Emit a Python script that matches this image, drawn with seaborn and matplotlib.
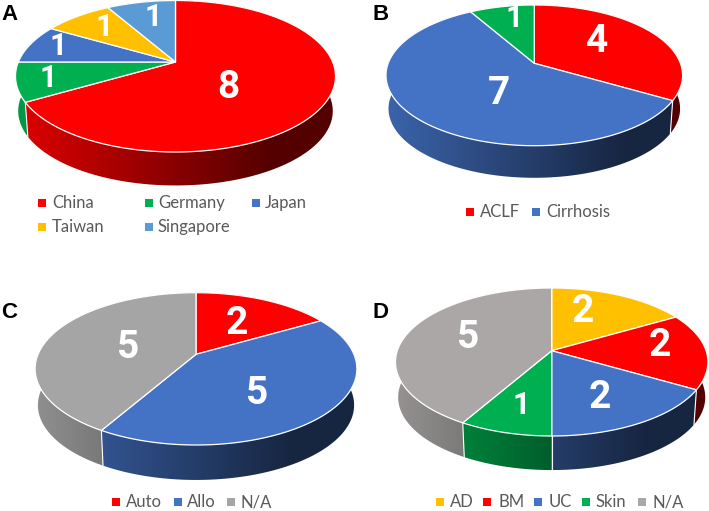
import numpy as np
import matplotlib
matplotlib.use('Agg')
import matplotlib.pyplot as plt
from matplotlib.patches import Polygon
import seaborn as sns

sns.set_theme(style='white')

# Cores
red = '#FF0000'
green = '#00B050'
blue = '#4472C4'
yellow = '#FFC000'
sky = '#5B9BD5'
gray = '#A5A5A5'
warm_gray = '#ABA7A7'

# Data
a_names = ['China', 'Germany', 'Japan', 'Taiwan', 'Singapore']
a_values = [8, 1, 1, 1, 1]
a_colors = [red, green, blue, yellow, sky]

b_names = ['ACLF', 'Cirrhosis', '']
b_values = [4, 7, 1]
b_colors = [red, blue, green]

c_names = ['Auto', 'Allo', 'N/A']
c_values = [2, 5, 5]
c_colors = [red, blue, gray]

d_names = ['AD', 'BM', 'UC', 'Skin', 'N/A']
d_values = [2, 2, 2, 1, 5]
d_colors = [yellow, red, blue, green, warm_gray]

# Layout in pixels: apex x, apex y, top, bottom, left, right, wall depth
a_geom = (175.5, 62, 0.5, 152, 15, 335, 35)
b_geom = (534.3, 63.3, 5, 145.7, 385.7, 682.3, 33.5)
c_geom = (196, 354.3, 292.7, 445, 34.3, 356, 36.5)
d_geom = (551.7, 350.7, 288, 436, 395.3, 707.7, 35.5)

a_label_pos = [(228, 88), (48, 78), (58, 46), (104, 27), (153, 17)]
b_label_pos = [(597, 42), (499, 93), (514, 18)]
c_label_pos = [(237, 324), (257, 394), (128, 348)]
d_label_pos = [(583, 312), (660, 345), (600, 397), (521, 405), (468, 338)]

# marker x, text x, row y for every legend entry
a_legend = [(42, 52, 203), (149, 158, 203), (256, 265, 203), (42, 52, 227), (149, 158, 227)]
b_legend = [(470, 480, 212), (536, 546, 212), None]
c_legend = [(116, 126, 502), (178, 187, 502), (231, 241, 502)]
d_legend = [(440, 450, 502), (487, 498, 502), (538, 549, 502), (586, 596, 502), (642, 652, 502)]

fig = plt.figure(figsize=(7.09, 5.11), dpi=100)
ax = fig.add_axes([0, 0, 1, 1])


def project(theta, geom, shrink=1.0, shift=0.0):
    # circle seen in perspective, theta clockwise from the top
    ax0, ay0, top, bottom, left, right, depth = geom
    up = ay0 - top
    down = bottom - ay0
    c = (down - up) / (down + up)
    a = up * (1 + c)
    s = (right - left) / 2 * np.sqrt(1 - c ** 2)
    u, v = np.sin(theta), np.cos(theta)
    x = ax0 + shrink * s * u / (1 + c * v)
    y = ay0 - shrink * a * v / (1 + c * v) + shift
    return x, y


def draw_pie(values, colors, names, geom, label_pos, legend):
    ax0, ay0, top, bottom, left, right, depth = geom
    ends = np.cumsum(values) / np.sum(values) * 2 * np.pi
    starts = np.concatenate([[0], ends[:-1]])
    ramp = np.clip(np.linspace(0, 1.25, 256), 0, 1).reshape(1, -1)

    # lateral walls, back ones first
    order = np.argsort([np.mean(project(np.linspace(s, e, 40), geom)[1]) for s, e in zip(starts, ends)])
    for i in order:
        theta = np.linspace(starts[i], ends[i], 120)
        x1, y1 = project(theta, geom)
        x2, y2 = project(theta[::-1], geom, shrink=0.983, shift=depth)
        poly = Polygon(np.column_stack([np.r_[x1, x2], np.r_[y1, y2]]), closed=True,
                       transform=ax.transData, facecolor='none', edgecolor='none')
        ax.add_patch(poly)
        base = np.array(matplotlib.colors.to_rgb(colors[i]))
        cmap = sns.blend_palette([base * 0.88, base * 0.33], as_cmap=True)
        im = ax.imshow(ramp, cmap=cmap, vmin=0, vmax=1, aspect='auto', zorder=1,
                       extent=(left - 3, right + 3, bottom + depth + 3, top))
        im.set_clip_path(poly)

    # white seams on the wall
    for t in starts:
        x1, y1 = project(t, geom)
        x2, y2 = project(t, geom, shrink=0.983, shift=depth)
        ax.plot([x1, x2], [y1, y2], color='white', lw=0.8, zorder=2)

    # top face
    for i in range(len(values)):
        theta = np.linspace(starts[i], ends[i], 200)
        x, y = project(theta, geom)
        ax.fill(np.r_[ax0, x], np.r_[ay0, y], facecolor=colors[i], edgecolor='white',
                lw=0.9, joinstyle='round', zorder=3)

    # value labels, the ones are set smaller
    for v, (lx, ly) in zip(values, label_pos):
        ax.text(lx, ly, str(v), color='white', ha='center', va='center', zorder=4,
                family='Roboto', fontweight='bold', fontsize=22 if v == 1 else 28)

    # legend
    for name, col, entry in zip(names, colors, legend):
        if entry is None:
            continue
        mx, tx, ry = entry
        ax.scatter([mx], [ry], marker='s', s=26, color=col, linewidths=0, zorder=4)
        ax.text(tx, ry, name, color='#595959', ha='left', va='center', family='Lato', fontsize=12)


draw_pie(a_values, a_colors, a_names, a_geom, a_label_pos, a_legend)
draw_pie(b_values, b_colors, b_names, b_geom, b_label_pos, b_legend)
draw_pie(c_values, c_colors, c_names, c_geom, c_label_pos, c_legend)
draw_pie(d_values, d_colors, d_names, d_geom, d_label_pos, d_legend)

# panel letters
for letter, px, py in [('A', 1, 15), ('B', 372, 15), ('C', 1, 312), ('D', 372, 312)]:
    ax.text(px, py, letter, color='black', ha='left', va='center', family='Liberation Sans',
            fontweight='bold', fontsize=16, zorder=5)

ax.set_xlim(0, 709)
ax.set_ylim(511, 0)
ax.axis('off')

fig.savefig('out.png', dpi=100, facecolor='white')
